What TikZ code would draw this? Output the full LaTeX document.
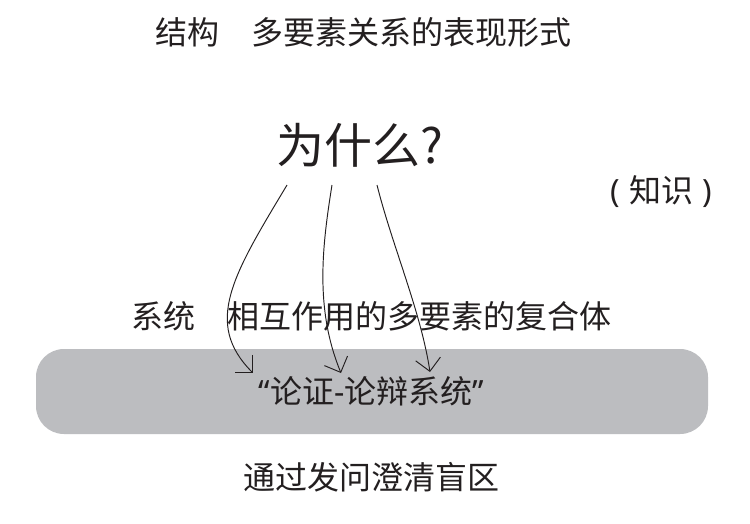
\documentclass[tikz,border=0pt]{standalone}
\usepackage{fontspec}
\newfontfamily\cjk{Noto Sans CJK SC}
\newfontfamily\lat{Noto Sans}
\usetikzlibrary{arrows.meta}
\definecolor{ink}{RGB}{35,31,32}
\definecolor{boxgray}{RGB}{188,189,192}
\tikzset{
  txt/.style={text=ink, font=\cjk\fontsize{32}{38}\selectfont, inner sep=0pt, anchor=base},
  bigtxt/.style={text=ink, font=\cjk\fontsize{48}{56}\selectfont, inner sep=0pt, anchor=base},
  sysbox/.style={fill=boxgray, draw=none, rounded corners=28pt},
  conn/.style={draw=ink, line width=0.95pt, -{Straight Barb[length=12.5pt,width=25pt,line width=0.95pt]}}
}
\begin{document}
\begin{tikzpicture}[x=1pt,y=-1pt]
\useasboundingbox (0,0) rectangle (750,523);
\fill[white] (0,0) rectangle (750,523);
\node[sysbox, minimum width=672pt, minimum height=85pt] (box) at (372,391.5) {};
\node[txt] (title) at (363,44) {结构　多要素关系的表现形式};
\node[bigtxt] (why) at (360,163) {为什么?};
\node[txt] (know) at (661,202) {{\lat (}\hspace{9pt}知识\hspace{9pt}{\lat )}};
\node[txt] (sys) at (371.5,328) {系统　相互作用的多要素的复合体};
\node[txt] (arg) at (371.5,403) {{\lat “}论证{\lat -}论辩系统{\lat ”}};
\node[txt] (ask) at (371,489) {通过发问澄清盲区};
\coordinate (s1) at (287,185);
\coordinate (e1) at (253,373);
\coordinate (s2) at (332,185);
\coordinate (e2) at (341,373);
\coordinate (s3) at (377,185);
\coordinate (e3) at (430,372);
\draw[conn] (s1) .. controls (233,275) and (203,323) .. (e1);
\draw[conn] (s2) .. controls (322.4,245) and (314.4,308.6) .. (e2);
\draw[conn] (s3) .. controls (392,245) and (421,312) .. (e3);
\end{tikzpicture}
\end{document}
